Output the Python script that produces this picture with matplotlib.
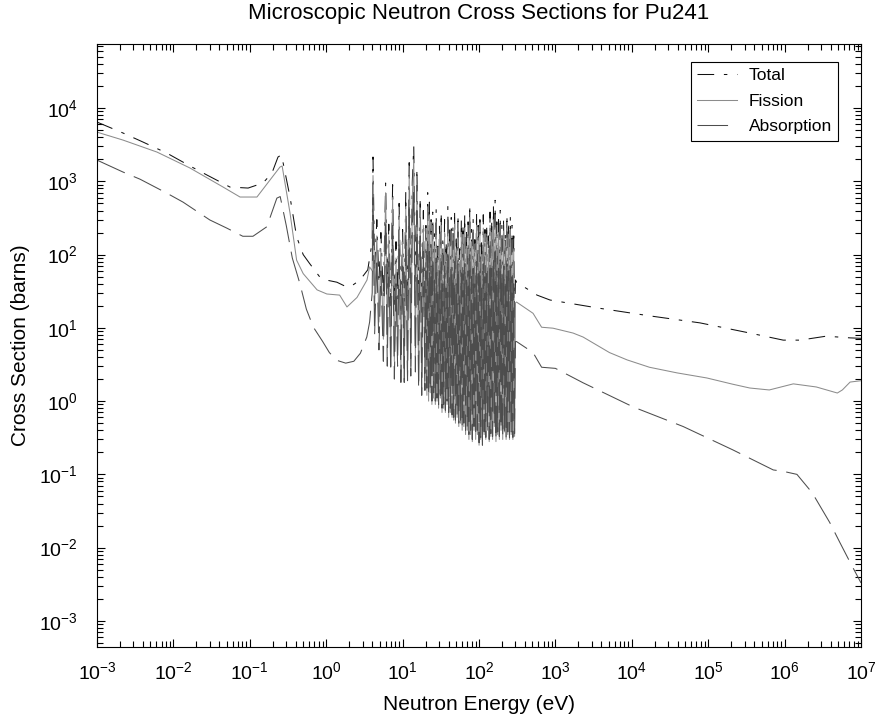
import numpy as np
import matplotlib
matplotlib.use("Agg")
from matplotlib import pyplot as plt
from matplotlib.ticker import LogLocator, NullFormatter

plt.rcParams['font.family'] = ['Liberation Sans', 'DejaVu Sans']
plt.rcParams['mathtext.fontset'] = 'custom'
plt.rcParams['mathtext.rm'] = 'Liberation Sans'
plt.rcParams['lines.scale_dashes'] = False

# Resolved resonance region energies (eV): sparse part, then dense part.
e_res_a = [4.0, 4.1, 4.3, 4.6, 4.9, 5.2, 5.6, 6.0, 6.3, 6.6,
           7.0, 7.4, 7.8, 8.2, 8.6, 9.0, 9.5, 10.0, 10.5, 11.0,
           11.6, 12.2, 12.8, 13.4, 14.0, 14.7, 15.4, 16.2, 17.0, 17.8,
           18.7, 19.6]
e_res_b = [20.2, 20.8, 21.3, 21.9, 22.4, 23.0, 23.6, 24.2, 24.8, 25.5,
           26.1, 26.8, 27.5, 28.2, 28.9, 29.6, 30.4, 31.2, 32.0, 32.8,
           33.6, 34.5, 35.4, 36.3, 37.2, 38.2, 39.1, 40.1, 41.2, 42.2,
           43.3, 44.4, 45.6, 46.7, 47.9, 49.2, 50.4, 51.7, 53.1, 54.4,
           55.8, 57.3, 58.7, 60.2, 61.8, 63.4, 65.0, 66.7, 68.4, 70.2,
           72.0, 73.8, 75.7, 77.7, 79.7, 81.7, 83.8, 86.0, 88.2, 90.5,
           92.8, 95.2, 97.7, 100.2, 102.8, 105.4, 108.1, 110.9, 113.8, 116.7,
           119.7, 122.8, 126.0, 129.2, 132.6, 136.0, 139.5, 143.1, 146.8, 150.6,
           154.5, 158.4, 162.5, 166.7, 171.0, 175.4, 180.0, 184.6, 189.4, 194.3,
           199.3, 204.4, 209.7, 215.1, 220.7, 226.4, 232.2, 238.2, 244.4, 250.7,
           257.2, 263.8, 270.6, 277.6, 284.8, 292.1, 300.0]

# Total cross section (barns)
e_total_low = [0.001, 0.0022, 0.004, 0.0082, 0.0165, 0.0275, 0.055, 0.095,
               0.149, 0.195, 0.234, 0.26, 0.30, 0.336, 0.41, 0.5, 0.61, 0.83,
               1.0, 1.38, 1.87, 2.2, 2.77, 3.5]
total_low = [6450, 4560, 3440, 2430, 1620, 1220, 836, 810, 950, 1300, 2150,
             2300, 1100, 611, 175, 100, 75, 49, 45, 42, 36, 38, 45, 62]
total_res_a = [150, 2150, 60, 300, 40, 200, 25, 950, 30, 260,
               20, 900, 18, 150, 25, 500, 15, 220, 14, 700,
               15, 1800, 20, 1000, 3000, 30, 1500, 15, 600, 14,
               400, 13]
total_res_b = [250, 15, 700, 12, 520, 14, 300, 12, 380, 13,
               200, 12, 420, 13, 130, 12, 280, 14, 380, 12,
               160, 13, 300, 12, 150, 13, 450, 12, 220, 14,
               320, 12, 250, 13, 400, 12, 180, 14, 350, 12,
               120, 13, 300, 12, 260, 14, 350, 12, 200, 13,
               280, 12, 480, 13, 220, 12, 300, 14, 160, 12,
               380, 13, 250, 12, 300, 14, 150, 12, 350, 13,
               220, 12, 260, 14, 180, 12, 380, 13, 300, 12,
               450, 14, 550, 12, 280, 13, 300, 12, 400, 14,
               250, 12, 320, 13, 200, 12, 350, 14, 280, 12,
               330, 13, 250, 12, 180, 14, 45]
e_total_high = [310, 575, 850, 3800, 17000, 78000, 3.5e5, 9.6e5, 1.6e6,
                3.5e6, 7.2e6, 1e7]
total_high = [42, 28, 24, 18.5, 14.6, 11.7, 8.5, 6.8, 6.8, 7.7, 7.3, 7.2]

# Fission cross section (barns)
e_fission_low = [0.001, 0.00219, 0.0061, 0.0165, 0.0447, 0.0745, 0.124,
                 0.184, 0.248, 0.265, 0.336, 0.41, 0.5, 0.76, 1.02, 1.5,
                 1.87, 2.53, 3.42, 3.7]
fission_low = [4700, 3660, 2510, 1520, 836, 611, 611, 1042, 1567, 1620, 370,
               84, 55, 33, 29, 28, 19.3, 26, 45, 68]
fission_res_a = [60, 1200, 20, 180, 12, 120, 7, 700, 6, 180,
                 4, 600, 3.5, 90, 5, 350, 2.5, 150, 2.0, 450,
                 2.2, 1200, 3, 600, 2000, 4, 900, 1.8, 400, 1.5,
                 250, 1.9]
fission_res_b = [170, 1.2, 450, 1.0, 350, 1.3, 200, 0.9, 250, 1.1,
                 130, 0.9, 280, 1.0, 90, 0.8, 190, 1.1, 250, 0.7,
                 100, 0.8, 200, 0.7, 100, 0.9, 300, 0.6, 150, 0.7,
                 210, 0.6, 170, 0.55, 260, 0.5, 120, 0.6, 230, 0.45,
                 80, 0.5, 200, 0.4, 170, 0.45, 230, 0.35, 130, 0.4,
                 190, 0.3, 320, 0.35, 150, 0.28, 200, 0.4, 110, 0.3,
                 250, 0.35, 170, 0.25, 200, 0.3, 100, 0.28, 230, 0.35,
                 150, 0.3, 170, 0.4, 120, 0.28, 250, 0.33, 200, 0.3,
                 300, 0.45, 350, 0.28, 190, 0.35, 200, 0.3, 260, 0.4,
                 170, 0.3, 210, 0.38, 130, 0.3, 230, 0.35, 190, 0.3,
                 220, 0.35, 160, 0.3, 120, 0.33, 22]
e_fission_high = [310, 510, 660, 930, 1700, 2300, 5100, 8700, 17000, 39000,
                  96000, 2.1e5, 3.5e5, 6.3e5, 1.3e6, 2.6e6, 4.9e6, 5.7e6,
                  7.2e6, 1e7]
fission_high = [22.5, 15.8, 10.2, 9.9, 8.5, 7.5, 4.6, 3.65, 2.9, 2.43, 2.07,
                1.7, 1.51, 1.42, 1.72, 1.56, 1.29, 1.42, 1.82, 1.9]

# Absorption cross section (barns)
e_absorption_low = [0.001, 0.00219, 0.00366, 0.0082, 0.0134, 0.030, 0.05,
                    0.081, 0.11, 0.167, 0.226, 0.25, 0.30, 0.36, 0.45, 0.55,
                    0.68, 0.9, 1.1, 1.38, 1.8, 2.3, 2.8, 3.4, 3.7]
absorption_low = [1950, 1340, 1070, 690, 520, 297, 230, 178, 178, 240, 590,
                  620, 250, 90, 41, 18, 10.2, 6.5, 4.6, 3.6, 3.3, 3.5, 4.5,
                  7.5, 12]
absorption_res_a = [30, 600, 8, 90, 5, 60, 3.5, 300, 3, 80,
                    2.5, 250, 2, 40, 3, 150, 1.8, 70, 1.8, 200,
                    1.9, 500, 2.2, 250, 800, 2.5, 400, 1.5, 180, 1.2,
                    110, 1.4]
absorption_res_b = [60, 1.5, 150, 1.2, 110, 1.4, 70, 1.0, 90, 1.3,
                    45, 1.0, 90, 1.1, 35, 0.9, 60, 1.2, 80, 0.8,
                    40, 0.9, 70, 0.75, 35, 1.0, 100, 0.7, 50, 0.8,
                    70, 0.65, 55, 0.6, 80, 0.55, 40, 0.65, 75, 0.5,
                    30, 0.55, 65, 0.45, 55, 0.5, 75, 0.4, 45, 0.45,
                    60, 0.35, 100, 0.4, 50, 0.3, 65, 0.45, 40, 0.33,
                    80, 0.4, 55, 0.27, 65, 0.32, 35, 0.25, 75, 0.38,
                    50, 0.32, 55, 0.45, 40, 0.3, 80, 0.36, 65, 0.33,
                    95, 0.5, 110, 0.3, 60, 0.38, 65, 0.33, 85, 0.42,
                    55, 0.33, 70, 0.4, 45, 0.32, 75, 0.38, 60, 0.32,
                    70, 0.38, 50, 0.32, 40, 0.36, 6.5]
e_absorption_high = [310, 510, 660, 1000, 2300, 10500, 47000, 2.1e5, 7.1e5,
                     9.6e5, 1.45e6, 2.3e6, 3.9e6, 5.3e6, 7.2e6, 1e7]
absorption_high = [6.5, 4.6, 2.9, 2.8, 1.78, 0.83, 0.45, 0.216, 0.115, 0.11,
                   0.1, 0.056, 0.022, 0.0117, 0.0063, 0.0033]

e_res = e_res_a + e_res_b
e_total = e_total_low + e_res + e_total_high
total = total_low + total_res_a + total_res_b + total_high
e_fission = e_fission_low + e_res + e_fission_high
fission = fission_low + fission_res_a + fission_res_b + fission_high
e_absorption = e_absorption_low + e_res + e_absorption_high
absorption = absorption_low + absorption_res_a + absorption_res_b + absorption_high

fig = plt.figure(figsize=(8.82, 7.26), dpi=100)
ax = fig.add_axes([97 / 882, 79 / 726, 764 / 882, 603 / 726])

ax.loglog(e_total, total, color='#111111', lw=0.75, dashes=(12, 7, 2.5, 7),
          label='Total')
ax.loglog(e_fission, fission, color='#8c8c8c', lw=0.75, label='Fission')
ax.loglog(e_absorption, absorption, color='#4d4d4d', lw=0.75, dashes=(22, 7),
          label='Absorption')

ax.set_xlim(1e-3, 1e7)
ax.set_ylim(4.4e-4, 7.5e4)

ax.xaxis.set_major_locator(LogLocator(base=10, numticks=20))
ax.yaxis.set_major_locator(LogLocator(base=10, numticks=20))
ax.xaxis.set_minor_locator(LogLocator(base=10, subs=np.arange(2, 10), numticks=200))
ax.yaxis.set_minor_locator(LogLocator(base=10, subs=np.arange(2, 10), numticks=200))
ax.xaxis.set_minor_formatter(NullFormatter())
ax.yaxis.set_minor_formatter(NullFormatter())
ax.tick_params(which='both', direction='in', top=True, right=True, width=0.8,
               labelsize=14)
ax.tick_params(which='major', length=6)
ax.tick_params(which='minor', length=4)
ax.tick_params(axis='x', pad=10)
ax.tick_params(axis='y', pad=14)
for s in ax.spines.values():
    s.set_linewidth(0.8)

ax.set_title('Microscopic Neutron Cross Sections for Pu241', fontsize=16,
             y=1 + 30 / 603, pad=0, va='center')
ax.set_xlabel('Neutron Energy (eV)', fontsize=15)
ax.xaxis.set_label_coords(0.5, -57 / 603)
ax.xaxis.label.set_va('center')
ax.set_ylabel('Cross Section (barns)', fontsize=15)
ax.yaxis.set_label_coords(-76 / 764, 0.5)
ax.yaxis.label.set_va('center')

leg = ax.legend(loc='upper right', bbox_to_anchor=(0.970, 0.970),
                borderaxespad=0, fancybox=False, framealpha=1,
                edgecolor='black', fontsize=12.5, handlelength=2.3,
                handletextpad=0.7, labelspacing=0.6, borderpad=0.35)
leg.get_frame().set_linewidth(0.8)

plt.savefig('out.png', dpi=100)
